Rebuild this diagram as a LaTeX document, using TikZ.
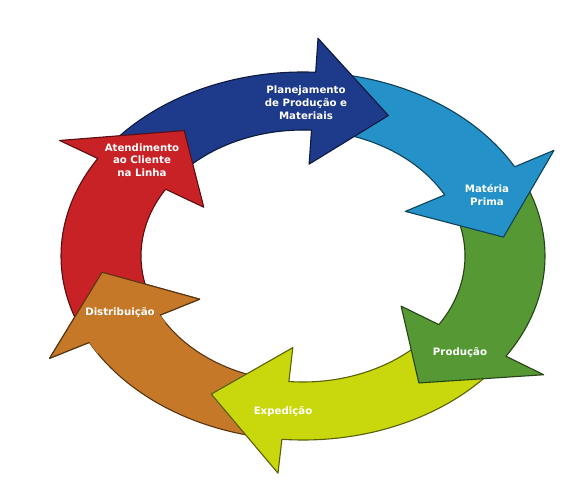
\documentclass[tikz,border=0pt]{standalone}
\usepackage{fontspec}
\setmainfont{DejaVu Sans}
\begin{document}
\begin{tikzpicture}[x=1pt,y=1pt,
  lbl/.style={text=white,font=\bfseries\fontsize{10.2}{12.8}\selectfont,align=center,inner sep=0pt}]
\useasboundingbox (0,0) rectangle (587,480);
\fill[white] (0,0) rectangle (587,480);
\definecolor{cRed}{RGB}{200,34,38}
\definecolor{cBlue}{RGB}{30,58,138}
\definecolor{cLBlue}{RGB}{36,146,200}
\definecolor{cGreen}{RGB}{86,152,52}
\definecolor{cYellow}{RGB}{200,216,12}
\definecolor{cOrange}{RGB}{196,120,40}
% ring arrow: #1 colour, #2 start angle, #3 base angle, #4 tip angle
\newcommand\ringarrow[4]{%
  \filldraw[fill=#1,draw=#1!45!black,line width=1.1pt,line join=round]
    (#2:242pt and 184pt) arc[start angle=#2,end angle=#3,x radius=242pt,y radius=184pt]
    -- (#3:287pt and 218pt) -- (#4:202pt and 155pt) -- (#3:117pt and 92pt)
    -- (#3:162pt and 126pt) arc[start angle=#3,end angle=#2,x radius=162pt,y radius=126pt]
    -- cycle;}
\newcommand\ringhead[3]{%
  \fill[#1] (#2+4:242pt and 184pt) arc[start angle=#2+4,end angle=#2,x radius=242pt,y radius=184pt]
    -- (#2:287pt and 218pt) -- (#3:202pt and 155pt) -- (#2:117pt and 92pt)
    -- (#2:162pt and 126pt) arc[start angle=#2,end angle=#2+4,x radius=162pt,y radius=126pt] -- cycle;
  \draw[draw=#1!45!black,line width=1.1pt,line join=round]
    (#2:242pt and 184pt) -- (#2:287pt and 218pt) -- (#3:202pt and 155pt) -- (#2:117pt and 92pt)
    -- (#2:162pt and 126pt);}
\begin{scope}[shift={(303pt,224pt)}]
  \ringarrow{cOrange}{-101}{-152}{-174}
  \ringarrow{cYellow}{-39}{-95}{-117}
  \ringarrow{cGreen}{23}{-33}{-55}
  \ringarrow{cLBlue}{81}{29}{7}
  \ringarrow{cBlue}{142}{87}{65}
  \ringarrow{cRed}{202}{148}{126}
  \ringhead{cOrange}{-152}{-174}
\end{scope}
\node[lbl] (plan) at (306,377) {Planejamento\\de Produção e\\Materiais};
\node[lbl] (aten) at (142,320) {Atendimento\\ao Cliente\\na Linha};
\node[lbl] (mat) at (487,285) {Matéria\\Prima};
\node[lbl] (prod) at (460,127) {Produção};
\node[lbl] (exp) at (283,68) {Expedição};
\node[lbl] (dist) at (120,167) {Distribuição};
\end{tikzpicture}
\end{document}
